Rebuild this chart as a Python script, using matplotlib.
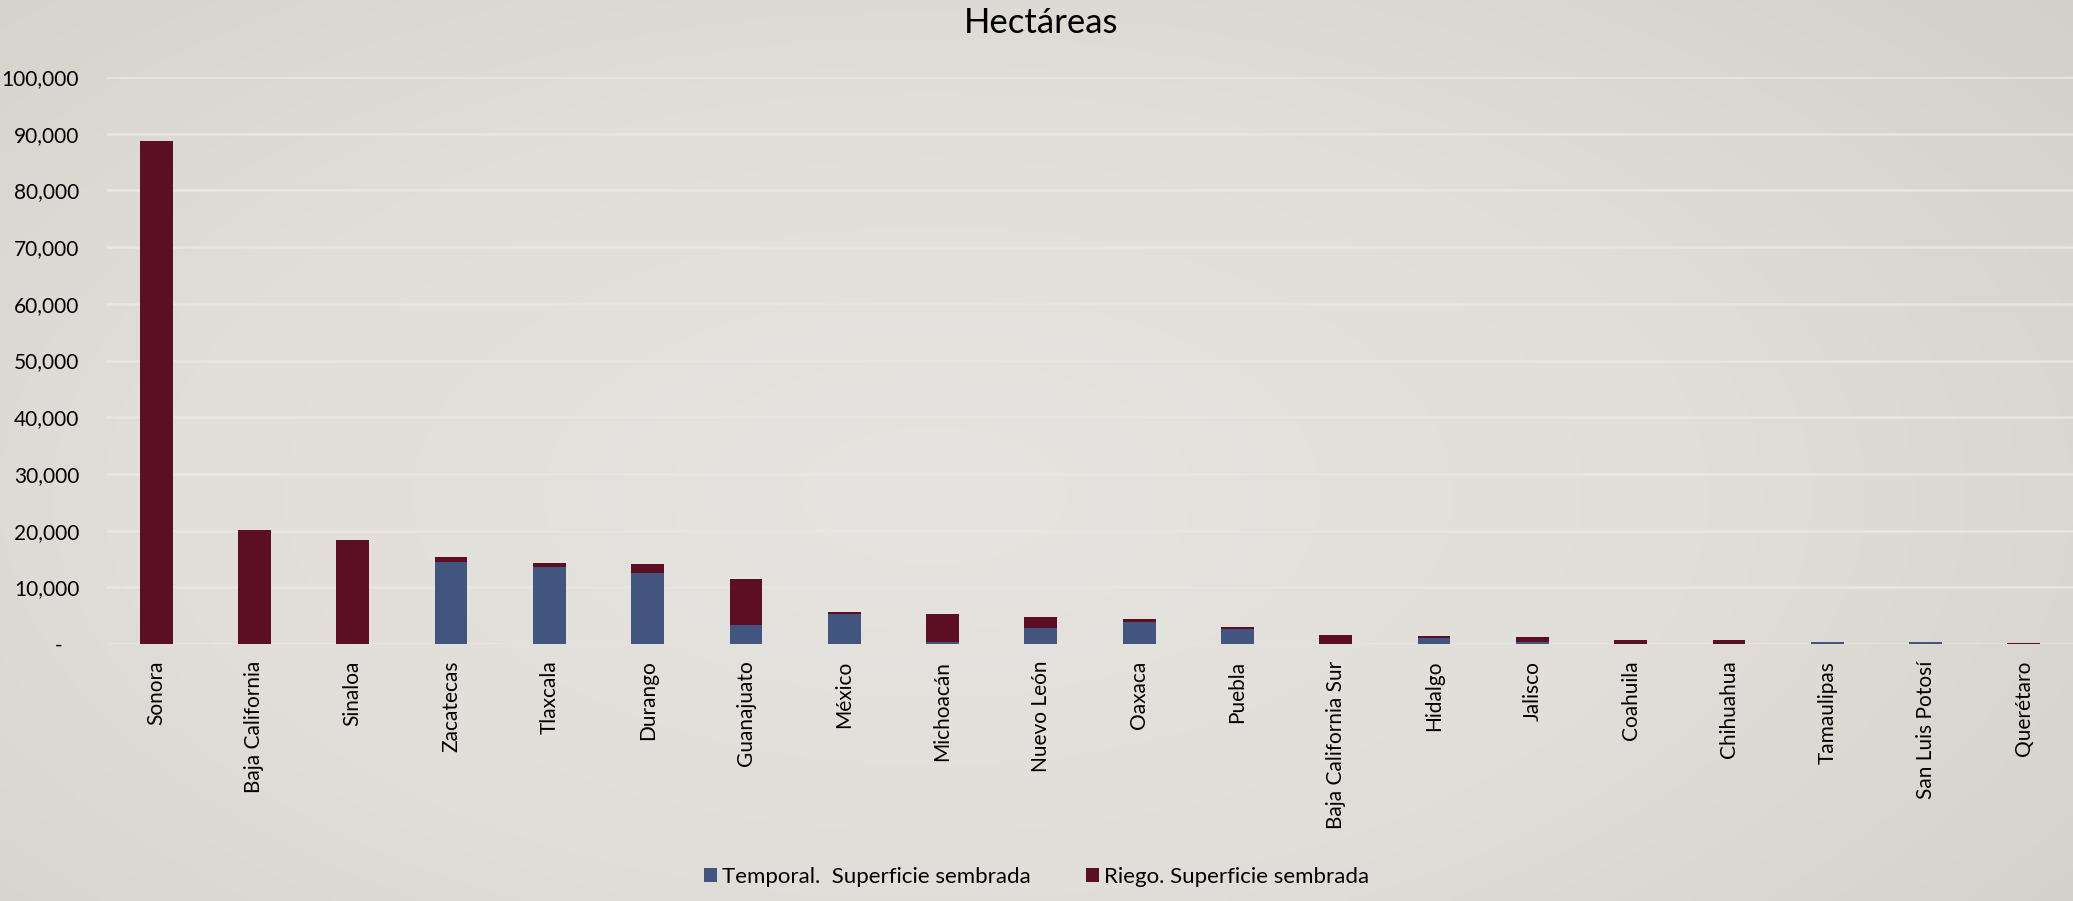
import numpy as np
import matplotlib
matplotlib.use("Agg")
import matplotlib.pyplot as plt
from matplotlib.colors import LinearSegmentedColormap
from matplotlib.ticker import FuncFormatter

plt.rcParams['font.family'] = ['Lato', 'DejaVu Sans']

states = ["Sonora", "Baja California", "Sinaloa", "Zacatecas", "Tlaxcala", "Durango",
          "Guanajuato", "México", "Michoacán", "Nuevo León", "Oaxaca", "Puebla",
          "Baja California Sur", "Hidalgo", "Jalisco", "Coahuila", "Chihuahua",
          "Tamaulipas", "San Luis Potosí", "Querétaro"]
temporal = [0, 0, 0, 14460, 13530, 12580, 3290, 5240, 390, 2910, 3910, 2620,
            0, 1000, 400, 0, 0, 350, 300, 0]
riego = [88700, 20100, 18290, 830, 810, 1530, 8120, 460, 4940, 1820, 460, 410,
         1520, 410, 840, 760, 760, 50, 0, 250]
y_ticks = [0, 10000, 20000, 30000, 40000, 50000, 60000, 70000, 80000, 90000, 100000]

W, H = 2073, 901
fig = plt.figure(figsize=(W / 100, H / 100), dpi=100)

# background gradient
bg = fig.add_axes([0, 0, 1, 1], zorder=-10)
yy, xx = np.mgrid[0:1:300j, 0:1:700j]
r = np.sqrt(((xx - 0.45) / 0.75) ** 2 + ((yy - 0.55) / 0.9) ** 2)
cmap = LinearSegmentedColormap.from_list("bg", ["#e6e4e0", "#e1ded9", "#d2cec8"])
bg.imshow(np.clip(r, 0, 1), cmap=cmap, aspect="auto", extent=[0, 1, 0, 1], vmin=0, vmax=1)
bg.axis("off")

ax = fig.add_axes([107 / W, 1 - 644 / H, 1 - 107 / W, (644 - 77) / H])
ax.patch.set_alpha(0)
x = np.arange(len(states))
c_temp = "#42557e"
c_riego = "#5c0f22"
ax.bar(x, temporal, width=0.333, color=c_temp, label="Temporal.  Superficie sembrada", zorder=3)
ax.bar(x, riego, width=0.333, bottom=temporal, color=c_riego,
       label="Riego. Superficie sembrada", zorder=3)

ax.set_xlim(-0.5, len(states) - 0.5)
ax.set_ylim(0, 100000)
ax.set_yticks(y_ticks)
ax.yaxis.set_major_formatter(FuncFormatter(lambda v, p: "-   " if v == 0 else f"{int(v):,}"))
ax.set_xticks(x)
ax.set_xticklabels(states, rotation=90, fontsize=15)
ax.tick_params(axis="y", labelsize=15, length=0, pad=20)
ax.tick_params(axis="x", length=0, pad=12)
for s in ax.spines.values():
    s.set_visible(False)
ax.grid(axis="y", color="#e8e6e3", linewidth=1.8, zorder=0)
ax.set_axisbelow(True)

fig.text(0.502, 1 - 23 / H, "Hectáreas", ha="center", va="center", fontsize=25)

fig.legend(loc="center", bbox_to_anchor=(0.5, 1 - 877 / H), ncol=2, frameon=False,
           fontsize=16, handlelength=0.6, handleheight=0.6, handletextpad=0.2,
           columnspacing=2.5)

fig.savefig("out.png", dpi=100)
